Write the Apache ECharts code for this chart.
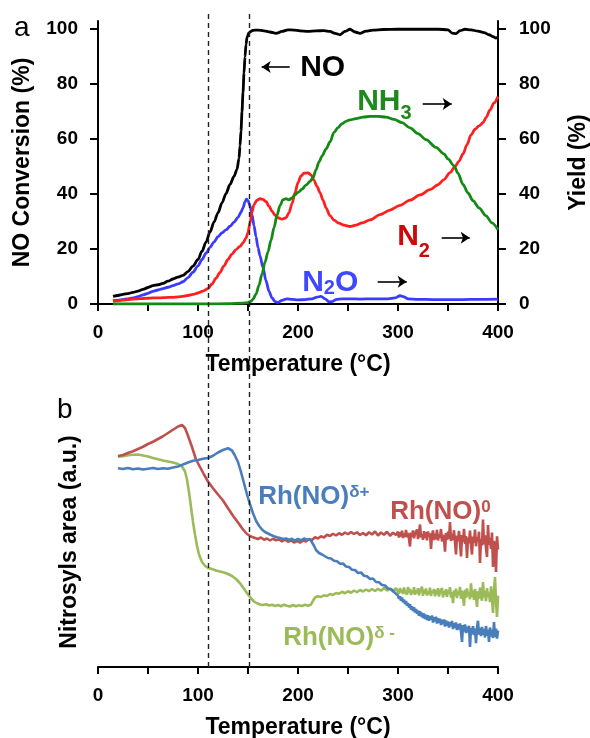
<!DOCTYPE html>
<html>
<head>
<meta charset="utf-8">
<script src="https://cdn.jsdelivr.net/npm/echarts@6/dist/echarts.min.js"></script>
<style>
  html, body { margin: 0; padding: 0; background: #fff; }
  #chart { width: 590px; height: 738px; }
</style>
</head>
<body>
<div id="chart"></div>
<script>
// Axis ticks shared by both panels
const tempTicks = [0, 50, 100, 150, 200, 250, 300, 350, 400];
const tempLabels = [0, 100, 200, 300, 400];
const percentTicks = [0, 20, 40, 60, 80, 100];
// Temperatures marked by the dashed guide lines (°C)
const dashedTemps = [110, 151];

// Panel a: [temperature °C, %]
const noConversion = [[15,2.8],[20,3.1],[25,3.5],[30,3.8],[35,4.2],[40,4.7],[45,5.3],[50,6.0],[55,6.7],[60,7.0],[65,7.5],[70,8.3],[75,9.1],[80,9.8],[85,10.4],[90,11.8],[95,13.8],[100,16.2],[104,19.2],[108,22.5],[112,26.2],[116,29.8],[120,33.2],[124,36.8],[128,40.2],[132,43.5],[136,46.4],[139,49.0],[141,53],[142,57.5],[143,63],[144,70],[145,77],[146,84],[147,90],[148,94.5],[149,97],[151,98.8],[155,99.6],[160,99.7],[166,99.4],[172,99.0],[178,98.5],[184,99.2],[190,99.8],[196,99.7],[202,99.4],[210,99.2],[218,99.4],[226,99.5],[232,99.2],[237,98.5],[242,98.0],[247,99.2],[252,100],[257,99.0],[262,98.5],[268,99.3],[275,99.7],[285,99.9],[300,100],[320,100],[340,100],[350,99.8],[354,98.6],[358,98.4],[362,99.5],[367,100],[373,99.8],[380,99.3],[386,98.8],[391,98.0],[395,97.3],[398,96.8],[400,97.3]];
const n2oYield = [[15,1.2],[20,1.4],[25,1.6],[30,1.9],[35,2.2],[40,2.7],[45,3.3],[50,3.9],[55,4.6],[60,5.1],[65,5.6],[70,6.1],[75,6.7],[80,7.3],[85,8.1],[90,9.6],[95,11.6],[100,13.9],[104,16.2],[108,18.5],[112,20.6],[116,22.6],[120,24.5],[124,25.9],[128,27.0],[132,28.3],[136,29.8],[140,31.5],[143,33.4],[145,35.0],[147,37.2],[148.5,38.2],[150,37.6],[152,35.8],[154,32.5],[156,28.5],[158,24.5],[160,20.5],[162,17.5],[165,13.2],[168,8.5],[171,4.6],[174,2.2],[177,0.9],[180,0.6],[184,1.3],[189,1.9],[194,1.7],[200,1.5],[207,1.6],[214,1.9],[219,2.5],[223,2.8],[227,1.9],[231,0.8],[234,0.9],[238,1.6],[244,1.9],[252,1.9],[262,1.8],[275,1.9],[290,1.9],[297,2.2],[302,3.0],[306,2.6],[310,1.9],[320,1.7],[335,1.6],[350,1.6],[365,1.6],[380,1.7],[400,1.8]];
const n2Yield = [[15,1.0],[20,1.2],[25,1.4],[30,1.6],[35,1.8],[40,1.9],[45,2.0],[50,2.1],[55,2.2],[60,2.2],[65,2.3],[70,2.4],[75,2.4],[80,2.6],[85,2.8],[90,3.1],[95,3.5],[100,4.0],[105,4.7],[110,5.6],[114,7.3],[118,9.4],[122,11.5],[126,13.9],[130,16.2],[134,18.2],[138,19.8],[142,21.0],[145,22.2],[148,24.0],[150,26.0],[152,29.5],[154,33.5],[156,36.2],[159,37.8],[162,38.3],[165,38.1],[168,37.3],[171,35.6],[174,33.8],[177,32.3],[180,31.4],[184,30.9],[188,31.4],[191,33.2],[194,36.5],[197,40.5],[200,44.2],[203,46.6],[206,47.6],[210,47.7],[213,47.0],[216,45.0],[219,42.8],[222,40.5],[225,37.8],[228,35.0],[232,32.2],[236,30.5],[241,29.4],[246,28.7],[252,28.2],[258,28.7],[264,29.5],[272,30.6],[282,32.5],[292,34.2],[302,35.9],[312,37.8],[322,39.7],[332,41.6],[340,43.4],[346,45.3],[352,47.8],[357,50.0],[361,52.0],[365,54.6],[369,58.0],[373,61.5],[377,63.6],[381,64.8],[385,66.0],[388,67.8],[392,70.6],[396,73.2],[400,75.5]];
const nh3Yield = [[15,0],[30,0],[50,0],[70,0],[90,0],[110,0],[130,0.1],[145,0.3],[150,0.5],[153,1.0],[155,1.8],[158,3.6],[161,6.8],[164,11.0],[167,15.2],[170,19.0],[173,23.2],[176,27.8],[179,32.3],[182,35.8],[185,38.0],[188,38.3],[191,37.9],[194,38.6],[197,39.7],[200,40.6],[204,41.8],[208,43.3],[212,44.6],[215,46.0],[218,48.8],[221,51.7],[224,53.8],[228,56.4],[232,59.0],[236,62.5],[240,64.2],[244,65.6],[248,66.5],[252,67.0],[258,67.5],[265,68.0],[272,68.3],[280,68.3],[288,68.0],[296,67.2],[304,66.0],[312,64.1],[320,62.0],[328,59.8],[338,57.0],[346,54.6],[350,52.8],[356,50.3],[360,47.6],[365,43.5],[370,40.4],[375,37.6],[381,35.0],[388,32.1],[394,29.5],[400,27.0]];

// Panel b: [temperature °C, nitrosyl band area, a.u.]
const rhNOplus = [[20,79.5],[25,79.2],[30,79.6],[35,79.1],[40,79.4],[45,79.0],[50,79.3],[55,79.6],[60,79.2],[65,79.5],[70,79.3],[75,79.8],[80,80.2],[85,81.0],[90,81.8],[95,82.5],[100,82.8],[105,83.3],[110,83.6],[115,84.5],[120,85.8],[125,86.8],[130,87.5],[134,86.6],[137,84.5],[140,82],[143,78],[146,73.5],[149,69],[152,65],[155,61.5],[158,58.5],[161,56.5],[164,55],[167,54],[170,53.4],[173,52.8],[176,52.3],[179,51.9],[182,51.6],[185,51.2],[188,51.4],[191,50.8],[194,51.3],[197,50.6],[200,51.2],[203,50.7],[206,51.4],[209,50.9],[212,51.2],[214,50.4],[216,48.5],[218,46.8],[221,45.6],[224,45.0],[227,44.3],[230,43.6],[233,43.4],[236,42.5],[239,42.3],[242,41.3],[245,41.4],[248,40.2],[251,40.0],[254,38.9],[257,38.8],[260,37.6],[263,37.8],[266,36.5],[269,36.3],[272,35.2],[275,35.4],[278,34.0],[281,33.9],[284,32.8],[287,32.6],[290,31.4],[293,31.2],[296,30.0],[298,29.6],
  [300,28.6],[301,27.2],[302,28.3],[303,26.5],[304,27.8],[305,25.9],[306,27.0],[307,25.2],[308,26.4],[309,24.5],[310,25.6],[311,23.8],[312,25.1],[313,23.0],[314,24.3],[315,22.4],[316,23.9],[317,21.8],[318,23.2],[319,21.3],[320,22.6],[321,20.5],[322,22.3],[323,20.2],[324,21.7],[325,19.6],[326,21.4],[327,19.2],[328,20.9],[329,18.8],[330,20.7],[331,18.5],[332,20.3],[333,18.9],[334,20.6],[335,17.8],[336,19.9],[337,18.2],[338,20.1],[339,17.4],[340,19.5],[341,17.6],[342,19.3],[343,16.8],[344,18.9],[345,17.1],[346,19.0],[347,16.2],[348,18.6],[349,16.5],[350,18.2],[351,15.8],[352,17.9],[353,16.3],[354,18.4],[355,15.2],[356,17.5],[357,15.6],[358,17.8],[359,14.8],[360,17.1],[361,15.0],[362,17.4],[363,14.3],[364,10.0],[365,16.8],[366,14.2],[367,17.0],[368,13.6],[369,16.1],[370,13.9],[371,16.5],[372,8.0],[373,15.7],[374,13.2],[375,16.3],[376,12.8],[377,15.4],[378,9.5],[379,15.9],[380,18.5],[381,13.0],[382,15.6],[383,12.4],[384,16.0],[385,12.9],[386,15.2],[387,11.8],[388,16.4],[389,12.5],[390,15.0],[391,10.0],[392,15.8],[393,12.2],[394,14.9],[395,11.6],[396,18.0],[397,12.0],[398,15.3],[399,11.4],[400,14.6]];
const rhNOzero = [[20,84.4],[25,84.8],[30,85.6],[35,86.3],[40,87.2],[45,88.1],[50,89.2],[55,90.1],[60,91.2],[65,92.3],[70,93.6],[75,94.9],[80,96.2],[84,96.8],[87,95.6],[90,92.5],[94,88],[98,83],[102,80],[106,77],[110,74.2],[115,71.5],[120,69],[125,66.6],[130,63.5],[135,60.5],[140,57.8],[145,55],[149,53.2],[153,52.2],[157,51.6],[160,51.2],[163,51.8],[166,50.9],[169,51.4],[172,50.6],[175,51.3],[178,50.7],[181,51.0],[184,50.2],[187,50.9],[190,50.1],[193,50.6],[196,49.8],[199,50.4],[202,49.7],[205,50.6],[208,50.2],[211,51.1],[214,50.8],[217,51.9],[220,51.4],[223,52.3],[226,51.8],[229,52.9],[232,52.4],[235,53.3],[238,52.6],[241,53.5],[244,52.9],[247,53.8],[250,53.1],[253,54.0],[256,53.2],[259,53.9],[262,52.8],[265,53.6],[268,52.7],[271,53.9],[274,53.0],[277,54.2],[280,52.6],[283,53.8],[286,52.9],[289,54.1],[292,52.5],[295,53.7],[298,52.8],
  [300,54.1],[301,51.8],[302,53.9],[303,52.2],[304,54.5],[305,51.6],[306,53.4],[307,52.0],[308,54.8],[309,51.9],[310,53.6],[311,51.3],[312,48.2],[313,53.8],[314,52.1],[315,54.6],[316,51.5],[317,53.2],[318,52.4],[319,55.0],[320,51.2],[321,53.7],[322,57.0],[323,51.8],[324,53.1],[325,50.9],[326,54.3],[327,51.6],[328,53.9],[329,50.7],[330,54.2],[331,52.0],[332,53.5],[333,47.2],[334,52.8],[335,54.6],[336,50.8],[337,53.3],[338,51.1],[339,54.9],[340,50.6],[341,53.0],[342,51.7],[343,55.2],[344,50.2],[345,52.9],[346,51.4],[347,46.1],[348,53.6],[349,50.9],[350,54.1],[351,51.2],[352,58.0],[353,50.4],[354,53.2],[355,50.8],[356,54.7],[357,49.9],[358,45.0],[359,52.6],[360,50.3],[361,54.4],[362,49.6],[363,44.2],[364,52.8],[365,50.1],[366,55.3],[367,49.2],[368,52.4],[369,43.6],[370,51.8],[371,49.5],[372,54.6],[373,48.8],[374,45.0],[375,52.2],[376,49.7],[377,55.0],[378,48.3],[379,51.9],[380,50.2],[381,54.1],[382,41.6],[383,51.3],[384,48.6],[385,59.0],[386,49.1],[387,52.7],[388,47.5],[389,44.0],[390,56.8],[391,48.9],[392,51.6],[393,47.2],[394,53.8],[395,40.0],[396,50.4],[397,48.1],[398,38.0],[399,52.3],[400,47.0]];
const rhNOminus = [[20,84.1],[25,84.3],[30,84.7],[35,84.9],[40,85.0],[45,84.6],[50,84.2],[55,83.6],[60,83.1],[65,82.6],[70,82.2],[75,81.8],[80,81.2],[84,80.2],[87,78.2],[89,75],[91,70],[93,64],[95,58],[97,53],[99,48.5],[101,45],[104,42],[107,40.5],[110,39.6],[114,39.2],[118,38.6],[122,38.2],[126,37.8],[130,37.2],[134,36.4],[138,35.2],[142,33.5],[146,31.3],[150,29],[153,27.5],[156,26.2],[159,25.5],[162,25.0],[165,24.8],[168,25.1],[171,24.6],[174,24.9],[177,24.4],[180,24.8],[183,24.3],[186,24.9],[189,24.5],[192,24.2],[195,24.8],[198,24.3],[201,24.7],[204,24.4],[207,24.9],[210,24.5],[213,25.0],[215,26.5],[217,27.8],[220,28.3],[223,28.0],[226,28.7],[229,28.4],[232,29.2],[235,28.8],[238,29.6],[241,29.3],[244,30.1],[247,29.5],[250,30.3],[253,29.7],[256,30.6],[259,29.9],[262,30.8],[265,30.2],[268,31.0],[271,30.3],[274,31.2],[277,30.4],[280,31.3],[283,30.5],[286,31.6],[289,30.6],[292,31.2],[295,30.2],[298,31.5],
  [300,31.2],[301,29.4],[302,31.6],[303,29.9],[304,31.0],[305,29.2],[306,31.8],[307,30.1],[308,30.9],[309,29.0],[310,32.0],[311,29.7],[312,31.3],[313,28.8],[314,30.6],[315,29.5],[316,31.9],[317,28.9],[318,30.7],[319,29.6],[320,31.5],[321,28.7],[322,30.4],[323,29.8],[324,32.1],[325,28.5],[326,30.9],[327,29.3],[328,31.4],[329,28.6],[330,30.2],[331,29.1],[332,31.7],[333,28.4],[334,30.5],[335,29.6],[336,31.2],[337,28.3],[338,30.8],[339,29.0],[340,31.5],[341,28.2],[342,30.1],[343,29.4],[344,31.6],[345,27.9],[346,30.3],[347,28.8],[348,31.1],[349,28.1],[350,30.6],[351,29.2],[352,31.9],[353,27.8],[354,30.0],[355,25.5],[356,30.7],[357,28.4],[358,31.3],[359,27.6],[360,30.2],[361,28.9],[362,32.0],[363,27.3],[364,30.5],[365,28.0],[366,24.5],[367,30.9],[368,27.7],[369,31.4],[370,28.3],[371,29.8],[372,27.1],[373,33.5],[374,28.0],[375,30.6],[376,26.9],[377,31.2],[378,28.5],[379,24.0],[380,30.3],[381,27.4],[382,31.8],[383,28.1],[384,26.5],[385,34.0],[386,27.8],[387,30.4],[388,26.3],[389,31.5],[390,28.0],[391,29.7],[392,26.0],[393,32.3],[394,27.5],[395,21.6],[396,30.8],[397,36.0],[398,26.2],[399,20.0],[400,28.5]];

const FONT = '"Liberation Sans", Arial, Helvetica, sans-serif';
const BLACK = '#000';

// Placement of the species labels and their arrows (data units of each panel)
const labelAnchors = {
  NO: [201.7, 85.9], NH3: [258.7, 72.3], N2: [298.7, 22.75], N2O: [203.7, 7.6],
  plus: [159.7, 68.0], zero: [291.7, 62.2], minus: [184.7, 11.6]
};
const arrowEnds = {
  NO: [[191.7, 86.3], [163.7, 86.3]],
  NH3: [[324.7, 72.8], [353.7, 72.8]],
  N2: [[343.7, 24.1], [371.7, 24.1]],
  N2O: [[279.7, 8.1], [308.7, 8.1]]
};

const chart = echarts.init(document.getElementById('chart'), null, { renderer: 'canvas' });

const axisLineStyle = { color: BLACK, width: 2 };
const tickLabelStyle = { color: BLACK, fontFamily: FONT, fontWeight: 'bold', fontSize: 19 };
const titleStyle = { color: BLACK, fontFamily: FONT, fontWeight: 'bold', fontSize: 23 };

function textMark(coord, formatter, rich) {
  return {
    silent: true,
    animation: false,
    symbol: 'circle',
    symbolSize: 1,
    itemStyle: { color: 'rgba(0,0,0,0)' },
    data: [{
      coord: coord,
      label: { show: true, position: 'right', distance: 0, formatter: formatter, rich: rich }
    }]
  };
}

function arrowMark(ends) {
  return {
    silent: true,
    animation: false,
    symbol: ['none', 'arrow'],
    symbolSize: 9,
    label: { show: false },
    lineStyle: { color: BLACK, width: 1.6, type: 'solid' },
    itemStyle: { color: BLACK },
    data: [[{ coord: ends[0] }, { coord: ends[1] }]]
  };
}

// main glyphs sit at the top of the line; the subscript is pushed down by its top padding
function chemRich(color, subPad) {
  return {
    m: { color: color, fontFamily: FONT, fontWeight: 'bold', fontSize: 30, lineHeight: 30, verticalAlign: 'top' },
    s: { color: color, fontFamily: FONT, fontWeight: 'bold', fontSize: 20, verticalAlign: 'bottom', padding: [subPad, 0, 0, 0] }
  };
}
function rhRich(color) {
  return {
    m: { color: color, fontFamily: FONT, fontWeight: 'bold', fontSize: 26, lineHeight: 26, verticalAlign: 'bottom' },
    s: { color: color, fontFamily: FONT, fontWeight: 'bold', fontSize: 17, lineHeight: 17, verticalAlign: 'top' }
  };
}

function tempAxis(gridIndex) {
  return {
    gridIndex: gridIndex,
    type: 'value',
    min: 0,
    max: 400,
    axisLine: { show: true, onZero: false, lineStyle: axisLineStyle },
    axisTick: { show: true, customValues: tempTicks, length: 7, lineStyle: axisLineStyle },
    axisLabel: { show: true, customValues: tempLabels, margin: 19, ...tickLabelStyle },
    splitLine: { show: false },
    name: 'Temperature (°C)',
    nameLocation: 'middle',
    nameGap: 49,
    nameTextStyle: titleStyle
  };
}

function percentAxis(position, name, gap, margin) {
  return {
    gridIndex: 0,
    type: 'value',
    position: position,
    min: 0,
    max: 103,
    axisLine: { show: true, onZero: false, lineStyle: axisLineStyle },
    axisTick: { show: true, customValues: percentTicks, length: 8, lineStyle: axisLineStyle },
    axisLabel: { show: true, customValues: percentTicks, margin: margin, ...tickLabelStyle },
    splitLine: { show: false },
    name: name,
    nameLocation: 'middle',
    nameRotate: 90,
    nameGap: gap,
    nameTextStyle: titleStyle
  };
}

function line(name, data, color, width, xi, yi, smooth, extra) {
  return Object.assign({
    type: 'line',
    name: name,
    data: data,
    xAxisIndex: xi,
    yAxisIndex: yi,
    showSymbol: false,
    symbol: 'none',
    smooth: smooth,
    smoothMonotone: smooth ? 'x' : undefined,
    lineStyle: { color: color, width: width },
    itemStyle: { color: color },
    silent: true,
    animation: false
  }, extra || {});
}

const option = {
  backgroundColor: '#fff',
  animation: false,
  grid: [
    { left: 98, right: 92, top: 21, bottom: 434, outerBoundsMode: 'none', containLabel: false },
    { left: 98, right: 92, top: 417, bottom: 71, outerBoundsMode: 'none', containLabel: false },
    { left: 98, right: 92, top: 10, bottom: 71, outerBoundsMode: 'none', containLabel: false }
  ],
  xAxis: [
    tempAxis(0),
    tempAxis(1),
    { gridIndex: 2, type: 'value', min: 0, max: 400, show: false }
  ],
  yAxis: [
    percentAxis('left', 'NO Conversion (%)', 64, 20),
    percentAxis('right', 'Yield (%)', 69, 21),
    {
      gridIndex: 1, type: 'value', min: 0, max: 100,
      axisLine: { show: false }, axisTick: { show: false }, axisLabel: { show: false },
      splitLine: { show: false },
      name: 'Nitrosyls area (a.u.)', nameLocation: 'middle', nameRotate: 90, nameGap: 17,
      nameTextStyle: titleStyle
    },
    { gridIndex: 2, type: 'value', min: 0, max: 1, show: false }
  ],
  graphic: [
    { type: 'text', left: 14, top: 14, style: { text: 'a', fill: BLACK, font: '28px ' + FONT } },
    { type: 'text', left: 57, top: 396, style: { text: 'b', fill: BLACK, font: '28px ' + FONT } }
  ],
  series: [
    // dashed guide lines spanning both panels
    {
      type: 'line', xAxisIndex: 2, yAxisIndex: 3, data: [], silent: true, animation: false,
      markLine: {
        silent: true, animation: false, symbol: ['none', 'none'], label: { show: false },
        lineStyle: { color: '#222', width: 1.4, type: [5, 4] },
        data: dashedTemps.map(function (t) { return { xAxis: t }; })
      }
    },
    // panel a
    line('N2O', n2oYield, '#3b3bff', 2.8, 0, 1, 0.3, {
      markPoint: textMark(labelAnchors.N2O, '{m|N}{s|2}{m|O}', chemRich('#3f48ff', 11)),
      markLine: arrowMark(arrowEnds.N2O)
    }),
    line('N2', n2Yield, '#ff1f1f', 2.8, 0, 1, 0.3, {
      markPoint: textMark(labelAnchors.N2, '{m|N}{s|2}', chemRich('#cc0a0a', 19)),
      markLine: arrowMark(arrowEnds.N2)
    }),
    line('NH3', nh3Yield, '#138a13', 2.8, 0, 1, 0.3, {
      markPoint: textMark(labelAnchors.NH3, '{m|NH}{s|3}', chemRich('#1e8a1e', 17)),
      markLine: arrowMark(arrowEnds.NH3)
    }),
    line('NO', noConversion, BLACK, 2.8, 0, 0, 0.3, {
      markPoint: textMark(labelAnchors.NO, '{m|NO}', {
        m: { color: BLACK, fontFamily: FONT, fontWeight: 'bold', fontSize: 30, lineHeight: 30 }
      }),
      markLine: arrowMark(arrowEnds.NO)
    }),
    // panel b
    line('Rh(NO)δ-', rhNOminus, '#9bbb59', 2.6, 1, 2, false, {
      markPoint: textMark(labelAnchors.minus, '{m|Rh(NO)}{s|δ -}', rhRich('#9bbb59'))
    }),
    line('Rh(NO)0', rhNOzero, '#c0504d', 2.6, 1, 2, false, {
      markPoint: textMark(labelAnchors.zero, '{m|Rh(NO)}{s|0}', rhRich('#c0504d'))
    }),
    line('Rh(NO)δ+', rhNOplus, '#4a7ebb', 2.6, 1, 2, false, {
      markPoint: textMark(labelAnchors.plus, '{m|Rh(NO)}{s|δ+}', rhRich('#4a7ebb'))
    })
  ]
};

chart.setOption(option);
</script>
</body>
</html>
